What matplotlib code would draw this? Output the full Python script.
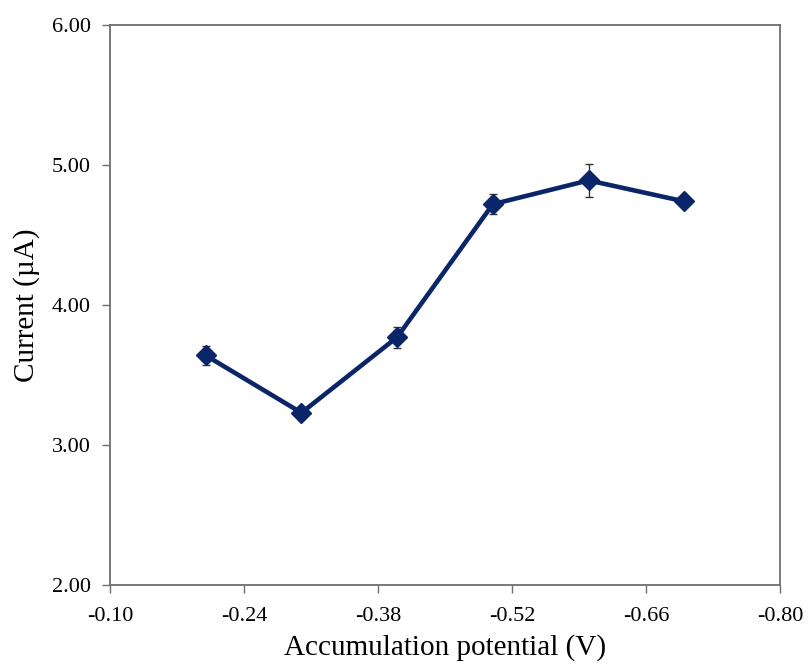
import matplotlib
matplotlib.use("Agg")
import matplotlib.pyplot as plt
from matplotlib.ticker import FormatStrFormatter, MultipleLocator

potential = [-0.20, -0.30, -0.40, -0.50, -0.60, -0.70]
current = [3.64, 3.23, 3.77, 4.72, 4.89, 4.74]
current_err = [0.07, 0.02, 0.075, 0.07, 0.12, 0.02]

plt.rcParams["font.family"] = ["Liberation Serif", "DejaVu Serif"]

fig = plt.figure(figsize=(8.08, 6.65), dpi=100)
ax = fig.add_axes([110 / 808, 1 - 585 / 665, 670 / 808, 560 / 665])

ax.errorbar(potential, current, yerr=current_err, color="#0b2668", lw=3.3,
            marker="D", ms=10, ecolor="#333333", elinewidth=1, capsize=3,
            capthick=1)

ax.set_xlim(-0.10, -0.80)
ax.set_ylim(2.0, 6.0)
ax.set_xticks([-0.10, -0.24, -0.38, -0.52, -0.66, -0.80])
ax.yaxis.set_major_locator(MultipleLocator(1.0))
ax.xaxis.set_major_formatter(FormatStrFormatter("%.2f"))
ax.yaxis.set_major_formatter(FormatStrFormatter("%.2f"))

for spine in ax.spines.values():
    spine.set_color("#6e6e6e")
    spine.set_linewidth(1.3)
ax.tick_params(direction="out", length=6, width=1, color="#6e6e6e",
               labelsize=16)
ax.tick_params(axis="x", pad=10)
ax.tick_params(axis="y", pad=8)

ax.set_xlabel("Accumulation potential (V)", fontsize=21, labelpad=6)
ax.set_ylabel("Current (\u00b5A)", fontsize=21, labelpad=8)

fig.savefig("out.png", dpi=100)
